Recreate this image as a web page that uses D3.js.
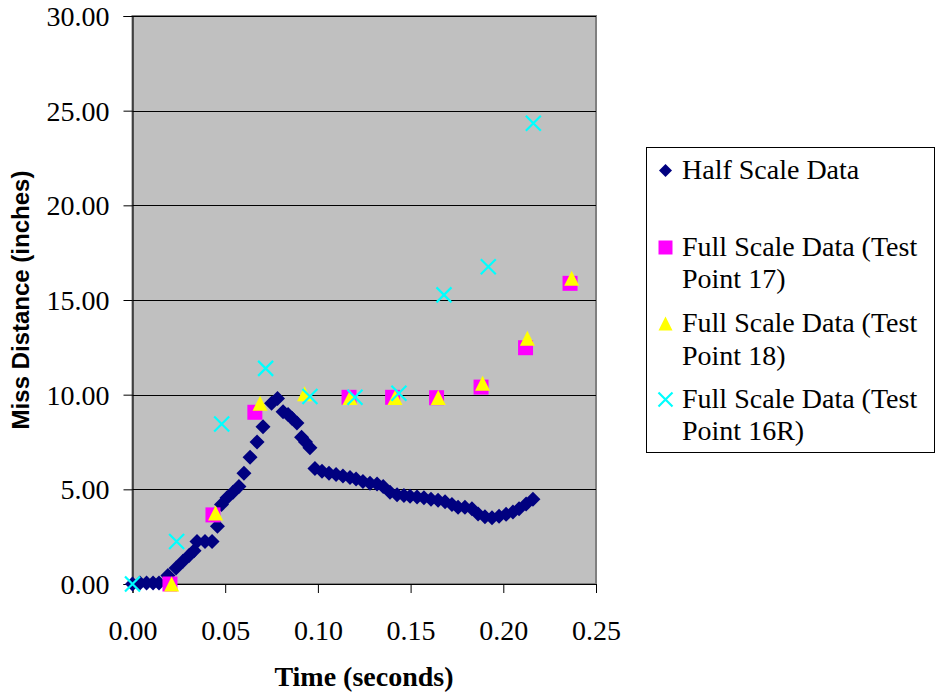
<!DOCTYPE html>
<html>
<head>
<meta charset="utf-8">
<script src="https://cdn.jsdelivr.net/npm/d3@7"></script>
<style>
  html, body { margin: 0; padding: 0; background: #ffffff; }
  svg { display: block; }
</style>
</head>
<body>
<svg id="chart" width="936" height="696"></svg>
<script>
// Half scale test: time (s) and miss distance (in)
const halfTime = [
  0.0000, 0.0040, 0.0076, 0.0111, 0.0143, 0.0191, 0.0235, 0.0272, 0.0305, 0.0332,
  0.0348, 0.0391, 0.0429, 0.0458, 0.0480, 0.0510, 0.0542, 0.0574, 0.0601, 0.0634,
  0.0672, 0.0704, 0.0750, 0.0782, 0.0812, 0.0839, 0.0860, 0.0887, 0.0912, 0.0933,
  0.0957, 0.0984, 0.1022, 0.1060, 0.1098, 0.1135, 0.1173, 0.1206, 0.1243, 0.1281,
  0.1319, 0.1352, 0.1389, 0.1427, 0.1464, 0.1497, 0.1535, 0.1572, 0.1610, 0.1648,
  0.1686, 0.1723, 0.1756, 0.1793, 0.1831, 0.1864, 0.1901, 0.1939, 0.1977, 0.2015,
  0.2052, 0.2085, 0.2123, 0.2160
];
const halfMiss = [
  0.00, 0.05, 0.05, 0.05, 0.05, 0.45, 0.85, 1.20, 1.50, 1.75,
  2.25, 2.25, 2.25, 3.05, 4.20, 4.55, 4.85, 5.15, 5.85, 6.70,
  7.50, 8.30, 9.55, 9.80, 9.10, 8.95, 8.75, 8.50, 7.75, 7.50,
  7.20, 6.10, 5.95, 5.85, 5.78, 5.70, 5.62, 5.55, 5.42, 5.32,
  5.28, 5.15, 4.85, 4.72, 4.68, 4.64, 4.60, 4.55, 4.48, 4.42,
  4.35, 4.20, 4.05, 4.05, 3.98, 3.70, 3.55, 3.50, 3.58, 3.68,
  3.80, 3.98, 4.22, 4.48
];

// Full scale, test point 17
const tp17Time = [0.0202, 0.0434, 0.0660, 0.1168, 0.1403, 0.1640, 0.1880, 0.2120, 0.2360];
const tp17Miss = [0.00, 3.65, 9.07, 9.86, 9.86, 9.84, 10.40, 12.48, 15.88];

// Full scale, test point 18
const tp18Time = [0.0211, 0.0448, 0.0688, 0.0928, 0.1173, 0.1416, 0.1649, 0.1888, 0.2130, 0.2369];
const tp18Miss = [0.00, 3.75, 9.55, 10.05, 9.85, 9.85, 9.85, 10.60, 12.98, 16.15];

// Full scale, test point 16R
const tp16rTime = [0.0000, 0.0238, 0.0481, 0.0718, 0.0957, 0.1200, 0.1437, 0.1680, 0.1919, 0.2162];
const tp16rMiss = [0.00, 2.24, 8.45, 11.39, 9.90, 9.86, 10.07, 15.27, 16.76, 24.34];

const xTicks = [0, 0.05, 0.10, 0.15, 0.20, 0.25];
const yTicks = [0, 5, 10, 15, 20, 25, 30];

const legendLabels = [
  ["Half Scale Data"],
  ["Full Scale Data (Test", "Point 17)"],
  ["Full Scale Data (Test", "Point 18)"],
  ["Full Scale Data (Test", "Point 16R)"]
];

const serif = "'Liberation Serif', 'Times New Roman', Times, serif";
const sans = "'Liberation Sans', Arial, Helvetica, sans-serif";

const svg = d3.select("#chart");
const plot = { left: 132.5, right: 596, top: 16, bottom: 584 };

const x = d3.scaleLinear().domain([0, 0.25]).range([plot.left, plot.right]);
const y = d3.scaleLinear().domain([0, 30]).range([plot.bottom, plot.top]);

// marker shapes, centred on their bounding box
const shapes = {
  diamond: r => `M0,${-r}L${r},0L0,${r}L${-r},0Z`,
  square: r => `M${-r},${-r}H${r}V${r}H${-r}Z`,
  triangle: r => `M0,${-r}L${r},${r}H${-r}Z`,
  cross: r => `M${-r},${-r}L${r},${r}M${r},${-r}L${-r},${r}`
};

const series = [
  { time: halfTime, miss: halfMiss, shape: "diamond", r: 7.5, fill: "#000080", stroke: "none" },
  { time: tp17Time, miss: tp17Miss, shape: "square", r: 7.5, fill: "#FF00FF", stroke: "none" },
  { time: tp18Time, miss: tp18Miss, shape: "triangle", r: 7.5, fill: "#FFFF00", stroke: "none" },
  { time: tp16rTime, miss: tp16rMiss, shape: "cross", r: 7.5, fill: "none", stroke: "#00FFFF" }
];

// plot background
svg.append("rect")
  .attr("x", plot.left).attr("y", plot.top)
  .attr("width", plot.right - plot.left).attr("height", plot.bottom - plot.top)
  .attr("fill", "#C0C0C0")
  .attr("stroke", "#808080").attr("stroke-width", 2);

// horizontal gridlines
svg.append("g")
  .selectAll("line")
  .data(yTicks.filter(v => v > 0))
  .join("line")
  .attr("x1", plot.left).attr("x2", plot.right)
  .attr("y1", d => Math.round(y(d)) + 0.5).attr("y2", d => Math.round(y(d)) + 0.5)
  .attr("stroke", "#000000").attr("stroke-width", 1);

// y axis
const yAxis = svg.append("g")
  .attr("transform", `translate(${plot.left},0)`)
  .call(d3.axisLeft(y).tickValues(yTicks).tickFormat(d3.format(".2f")).tickSize(9).tickPadding(14));
yAxis.select(".domain").attr("stroke", "#000").attr("stroke-width", 1);
yAxis.selectAll(".tick line").attr("stroke", "#000");
yAxis.selectAll("text")
  .attr("font-family", serif).attr("font-size", 28).attr("fill", "#000")
  .attr("dy", "0.34em");

// x axis
const xAxis = svg.append("g")
  .attr("transform", `translate(0,${plot.bottom})`)
  .call(d3.axisBottom(x).tickValues(xTicks).tickFormat(d3.format(".2f")).tickSize(9).tickPadding(14));
xAxis.select(".domain").attr("stroke", "#000").attr("stroke-width", 1);
xAxis.selectAll(".tick line").attr("stroke", "#000");
xAxis.selectAll("text")
  .attr("font-family", serif).attr("font-size", 28).attr("fill", "#000")
  .attr("y", 56).attr("dy", 0);

// axis titles
svg.append("text")
  .attr("x", 364).attr("y", 686)
  .attr("text-anchor", "middle")
  .attr("font-family", serif).attr("font-size", 28).attr("font-weight", "bold")
  .text("Time (seconds)");

svg.append("text")
  .attr("transform", "translate(29,300) rotate(-90)")
  .attr("text-anchor", "middle")
  .attr("font-family", sans).attr("font-size", 24).attr("font-weight", "bold")
  .text("Miss Distance (inches)");

// data markers
series.forEach(s => {
  const pts = s.time.map((t, i) => [t, s.miss[i]]);
  svg.append("g")
    .selectAll("path")
    .data(pts)
    .join("path")
    .attr("transform", d => `translate(${x(d[0])},${y(d[1])})`)
    .attr("d", shapes[s.shape](s.r))
    .attr("fill", s.fill)
    .attr("stroke", s.stroke)
    .attr("stroke-width", s.shape === "cross" ? 2.2 : 0);
});

// legend
const legend = svg.append("g");
legend.append("rect")
  .attr("x", 646.5).attr("y", 147.5).attr("width", 288).attr("height", 305)
  .attr("fill", "#ffffff").attr("stroke", "#000").attr("stroke-width", 1);

const legendBaselines = [[179], [256, 288], [332, 365], [408, 440]];
series.forEach((s, i) => {
  const b = legendBaselines[i][0];
  legend.append("path")
    .attr("transform", `translate(665.5,${b - 8.5})`)
    .attr("d", shapes[s.shape](s.shape === "diamond" ? 6.5 : 7))
    .attr("fill", s.fill)
    .attr("stroke", s.stroke)
    .attr("stroke-width", s.shape === "cross" ? 2.2 : 0);
  legendLabels[i].forEach((line, j) => {
    legend.append("text")
      .attr("x", 682).attr("y", legendBaselines[i][j])
      .attr("font-family", serif).attr("font-size", 28).attr("fill", "#000")
      .text(line);
  });
});
</script>
</body>
</html>
